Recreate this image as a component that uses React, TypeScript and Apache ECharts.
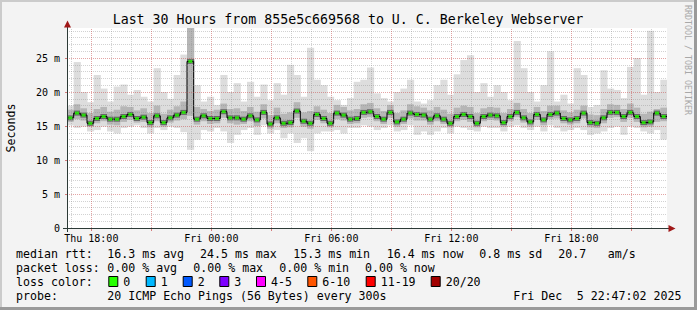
import React, { useEffect, useRef } from 'react';
import * as echarts from 'echarts';

// Time axis: hours since Thu 00:00. Graph covers Thu 16:47:02 .. Fri 22:47:02 (30 h)
const START_H = 16 + 47 / 60 + 2 / 3600;
const SPAN_H = 30;
const STEP_H = 1 / 3; // 20-minute consolidated steps

// median rtt per step (ms)
const medianMs = [
  16.2, 16.9, 16.6, 15.4, 16.1, 16.4, 16.0, 16.0, 16.4, 16.7, 16.1, 16.3, 15.5, 16.5, 15.5, 16.2, 16.6, 17.0,
  24.5, 16.0, 16.5, 16.1, 16.1, 17.1, 16.2, 16.2, 16.0, 16.5, 15.9, 17.0, 15.3, 16.2, 15.4, 15.5, 17.2, 15.7,
  15.4, 16.7, 16.1, 15.4, 16.9, 16.6, 16.0, 16.1, 17.0, 17.1, 16.4, 16.0, 17.0, 15.6, 16.0, 16.9, 16.7, 16.6,
  16.0, 16.5, 16.0, 15.4, 16.4, 16.7, 16.4, 15.4, 16.4, 16.6, 16.5, 15.5, 16.4, 17.0, 16.2, 15.6, 16.7, 15.9,
  16.7, 16.9, 16.1, 15.9, 16.1, 16.9, 15.5, 15.4, 16.2, 17.0, 17.0, 16.4, 17.0, 16.4, 15.5, 15.6, 16.9, 16.4,
];
// slowest ping per step (ms)
const maxMs = [
  18.0, 24.4, 20.0, 18.5, 22.5, 20.5, 18.6, 20.8, 21.1, 19.6, 20.3, 19.3, 18.6, 23.5, 20.0, 19.0, 22.5, 25.5,
  40.0, 21.0, 18.6, 19.3, 18.1, 22.5, 20.0, 21.3, 18.6, 21.5, 19.3, 21.1, 18.8, 21.3, 19.6, 24.0, 22.5, 19.3,
  26.5, 21.8, 21.0, 19.3, 18.8, 18.1, 19.1, 21.5, 21.8, 23.6, 19.8, 19.1, 18.6, 20.0, 20.5, 21.8, 18.6, 18.3,
  18.8, 21.0, 21.8, 19.6, 22.6, 24.7, 25.4, 20.0, 21.3, 19.3, 21.0, 20.0, 18.8, 27.5, 23.5, 20.0, 18.6, 21.0,
  26.0, 18.6, 19.6, 18.3, 23.5, 22.5, 17.8, 18.1, 23.2, 20.5, 20.3, 19.1, 23.7, 25.0, 19.6, 29.0, 20.0, 21.8,
];
// fastest ping per step (ms)
const minMs = [
  15.1, 14.7, 14.9, 14.2, 14.4, 14.9, 14.2, 13.9, 14.7, 14.9, 15.1, 14.7, 13.9, 14.7, 14.4, 14.9, 14.7, 14.1,
  11.5, 13.0, 14.4, 14.2, 14.7, 14.2, 12.5, 13.7, 14.4, 14.7, 13.7, 15.1, 13.9, 14.4, 13.2, 13.9, 12.5, 13.2,
  11.3, 13.9, 14.2, 14.2, 14.4, 13.9, 14.7, 14.7, 15.1, 14.9, 14.4, 14.7, 15.1, 14.2, 14.4, 15.1, 13.7, 14.2,
  13.7, 14.2, 14.7, 13.9, 14.9, 14.7, 14.4, 14.2, 14.9, 14.7, 14.7, 14.2, 14.9, 15.1, 14.7, 14.4, 14.9, 14.2,
  15.1, 14.7, 14.2, 14.4, 14.7, 14.4, 13.7, 13.9, 14.2, 14.7, 14.9, 13.7, 14.9, 14.7, 14.2, 13.9, 14.4, 13.0,
];
// upper edge of the dense part of the smoke (ms)
const upperMs = [
  17.4, 18.2, 17.6, 16.9, 17.5, 17.8, 17.1, 17.4, 17.9, 17.8, 17.3, 17.6, 16.9, 18.0, 16.8, 17.4, 17.9, 18.6,
  35.0, 17.8, 17.5, 17.2, 17.4, 18.3, 17.5, 17.6, 17.2, 17.8, 17.1, 18.2, 16.6, 17.7, 16.8, 17.0, 18.5, 17.0,
  17.2, 17.9, 17.4, 16.9, 18.1, 17.8, 17.3, 17.5, 18.2, 18.4, 17.6, 17.2, 18.1, 16.9, 17.3, 18.2, 17.9, 17.7,
  17.3, 17.8, 17.4, 16.8, 17.7, 18.0, 17.8, 16.9, 17.6, 17.8, 17.7, 16.9, 17.5, 18.4, 17.5, 16.9, 17.8, 17.2,
  18.0, 18.0, 17.3, 17.0, 17.4, 18.0, 16.7, 16.6, 17.5, 18.2, 18.1, 17.5, 18.3, 17.7, 16.8, 17.1, 17.5, 17.7,
];
// lower edge of the dense part of the smoke (ms)
const lowerMs = [
  15.6, 16.0, 15.8, 14.9, 15.4, 15.7, 15.2, 15.1, 15.6, 15.9, 15.5, 15.6, 14.8, 15.7, 14.9, 15.5, 15.8, 16.0,
  16.5, 15.2, 15.7, 15.3, 15.4, 16.2, 15.4, 15.2, 15.3, 15.7, 15.0, 16.1, 14.6, 15.4, 14.7, 14.8, 16.2, 14.9,
  14.6, 15.9, 15.4, 14.8, 16.0, 15.8, 15.3, 15.4, 16.2, 16.3, 15.7, 15.3, 16.2, 14.9, 15.3, 16.1, 15.8, 15.8,
  15.2, 15.7, 15.3, 14.8, 15.7, 15.9, 15.6, 14.8, 15.7, 15.9, 15.8, 14.9, 15.7, 16.3, 15.5, 14.9, 15.9, 15.1,
  16.0, 16.1, 15.4, 15.2, 15.4, 16.1, 14.8, 14.7, 15.4, 16.2, 16.3, 15.6, 16.2, 15.6, 14.8, 14.9, 15.6, 15.7,
];

const xTickHours = [18, 24, 30, 36, 42];
const xTickLabels = ['Thu 18:00', 'Fri 00:00', 'Fri 06:00', 'Fri 12:00', 'Fri 18:00'];
const yTickValues = [0, 5, 10, 15, 20, 25];
const yTickLabels = ['0', '5 m', '10 m', '15 m', '20 m', '25 m'];
const yMax = 200 / 6.8;

const lossLabels = ['0', '1', '2', '3', '4-5', '6-10', '11-19', '20/20'];
const lossColors = ['#26ff00', '#00b8ff', '#0059ff', '#7e00ff', '#ff00ff', '#ff5500', '#ff0000', '#a10000'];

const titleText = 'Last 30 Hours from 855e5c669568 to U. C. Berkeley Webserver';
const rttRow = ['median rtt:', '16.3 ms avg', '24.5 ms max', '15.3 ms min', '16.4 ms now', '0.8 ms sd', '20.7', 'am/s'];
const lossRow = ['packet loss:', '0.00 % avg', '0.00 % max', '0.00 % min', '0.00 % now'];
const probeRow = ['probe:', '20 ICMP Echo Pings (56 Bytes) every 300s', 'Fri Dec', '5 22:47:02 2025'];

// layout (pixels)
const rttX = [16, 107.3, 200, 293.3, 386.7, 479.3, 558.3, 607.7];
const lossX = [16, 107.3, 193.3, 279.3, 365];
const probeX = [16, 107.3, 513.3, 576.7];
const swatchX = [108.3, 145.7, 182.7, 219.3, 256, 307.3, 365.7, 430.7];
const ROWS = [254.3, 268.3, 282.3, 296.2];
const MONO = '"DejaVu Sans Mono", monospace';

export default function App() {
  const ref = useRef<HTMLDivElement>(null);

  useEffect(() => {
    const chart = echarts.init(ref.current as HTMLDivElement, null, { renderer: 'svg' });

    const times = medianMs.map((_, i) => START_H + i * STEP_H);
    const endH = START_H + SPAN_H;
    const last = medianMs.length - 1;

    const smokeData = medianMs.map((m, i) => [times[i], minMs[i], lowerMs[i], upperMs[i], maxMs[i], m]);
    const medLine = [...times.map((t, i) => [t, medianMs[i]]), [endH, medianMs[last]]];
    const medDots = times.map((t, i) => [t + STEP_H / 2, medianMs[i]]);

    const hourLines: number[] = [];
    const majorHourLines: number[] = [];
    for (let h = Math.ceil(START_H); h < endH; h++) {
      if (h % 3 === 0) majorHourLines.push(h);
      else hourLines.push(h);
    }
    const msLines: number[] = [];
    const majorMsLines: number[] = [];
    for (let v = 1; v < yMax; v++) {
      if (v % 5 === 0) majorMsLines.push(v);
      else msLines.push(v);
    }

    const txt = (text: string, x: number, y: number, extra: any = {}) => ({
      type: 'text',
      x,
      y,
      silent: true,
      z: 50,
      style: {
        text,
        fill: '#000',
        fontSize: 11.6,
        fontFamily: MONO,
        textAlign: 'left',
        align: 'left',
        textVerticalAlign: 'middle',
        verticalAlign: 'middle',
        ...extra,
      },
    });

    const graphics: any[] = [];
    graphics.push(txt(titleText, 348, 19.5, { fontSize: 13.25, textAlign: 'center', align: 'center' }));
    graphics.push({
      ...txt('Seconds', 10.8, 128, { textAlign: 'center', align: 'center' }),
      rotation: Math.PI / 2,
    });
    graphics.push({
      ...txt('RRDTOOL / TOBI OETIKER', 687.5, 60, { textAlign: 'center', align: 'center', fontSize: 8.3, fill: '#a8a8a8' }),
      rotation: -Math.PI / 2,
    });
    rttRow.forEach((s, i) => graphics.push(txt(s, rttX[i], ROWS[0])));
    lossRow.forEach((s, i) => graphics.push(txt(s, lossX[i], ROWS[1])));
    graphics.push(txt('loss color:', 16, ROWS[2]));
    lossLabels.forEach((lab, i) => {
      graphics.push({
        type: 'rect',
        silent: true,
        z: 50,
        shape: { x: swatchX[i] + 0.5, y: 276.5, width: 9, height: 10 },
        style: { fill: lossColors[i], stroke: '#000', lineWidth: 1 },
      });
      graphics.push(txt(lab, swatchX[i] + 15, ROWS[2]));
    });
    probeRow.forEach((s, i) => graphics.push(txt(s, probeX[i], ROWS[3])));

    // axes with arrows
    const axisColor = '#2c3a36';
    graphics.push({ type: 'line', silent: true, z: 40, shape: { x1: 67.5, y1: 232, x2: 67.5, y2: 26 }, style: { stroke: axisColor, lineWidth: 1 } });
    graphics.push({ type: 'line', silent: true, z: 40, shape: { x1: 63, y1: 228.5, x2: 669, y2: 228.5 }, style: { stroke: axisColor, lineWidth: 1 } });
    graphics.push({ type: 'polygon', silent: true, z: 41, shape: { points: [[67.5, 20.5], [64, 27.5], [71, 27.5]] }, style: { fill: '#a01818' } });
    graphics.push({ type: 'polygon', silent: true, z: 41, shape: { points: [[675.5, 228.5], [668.5, 225], [668.5, 232]] }, style: { fill: '#a01818' } });

    // image frame shading
    graphics.push({ type: 'rect', silent: true, z: 60, shape: { x: 0, y: 0, width: 697, height: 2 }, style: { fill: '#cbcbcb' } });
    graphics.push({ type: 'rect', silent: true, z: 60, shape: { x: 0, y: 0, width: 2, height: 310 }, style: { fill: '#cbcbcb' } });
    graphics.push({ type: 'rect', silent: true, z: 61, shape: { x: 0, y: 307, width: 697, height: 3 }, style: { fill: '#9a9a9a' } });
    graphics.push({ type: 'rect', silent: true, z: 61, shape: { x: 694, y: 0, width: 3, height: 310 }, style: { fill: '#9a9a9a' } });

    const dotted = (color: string) => ({ color, width: 1, type: [1, 1] as any });

    const option: any = {
      animation: false,
      backgroundColor: '#f3f3f3',
      grid: { left: 67, top: 28, width: 600, height: 200, show: true, backgroundColor: '#ffffff', borderWidth: 0, containLabel: false },
      xAxis: {
        type: 'value',
        min: START_H,
        max: endH,
        axisLine: { show: false },
        splitLine: { show: false },
        axisTick: {
          show: true,
          customValues: majorHourLines,
          length: 3,
          lineStyle: { color: 'rgba(200,73,73,0.7)' },
        },
        axisLabel: {
          customValues: xTickHours,
          formatter: (v: number) => {
            const k = xTickHours.findIndex((h) => Math.abs(h - v) < 1e-6);
            return k >= 0 ? xTickLabels[k] : '';
          },
          fontFamily: MONO,
          fontSize: 10,
          color: '#000',
          margin: 5,
        },
      },
      yAxis: {
        type: 'value',
        min: 0,
        max: yMax,
        axisLine: { show: false },
        splitLine: { show: false },
        axisTick: {
          show: true,
          customValues: majorMsLines,
          length: 2,
          lineStyle: { color: 'rgba(200,73,73,0.7)' },
        },
        axisLabel: {
          customValues: yTickValues,
          formatter: (v: number) => {
            const k = yTickValues.findIndex((h) => Math.abs(h - v) < 1e-6);
            return k >= 0 ? yTickLabels[k] : '';
          },
          fontFamily: MONO,
          fontSize: 10,
          color: '#000',
          margin: 7,
        },
      },
      graphic: { elements: graphics },
      series: [
        {
          type: 'custom',
          coordinateSystem: 'cartesian2d',
          data: smokeData,
          encode: { x: 0, y: [1, 4] },
          z: 2,
          silent: true,
          renderItem: (params: any, api: any) => {
            const t = api.value(0);
            const cs = params.coordSys;
            const clip = { x: cs.x, y: cs.y, width: cs.width, height: cs.height };
            const band = (lo: number, hi: number, fill: string) => {
              const p1 = api.coord([t, hi]);
              const p2 = api.coord([t + STEP_H, lo]);
              const r = echarts.graphic.clipRectByRect(
                { x: p1[0], y: p1[1], width: p2[0] - p1[0] + 0.5, height: p2[1] - p1[1] },
                clip
              );
              return r ? { type: 'rect', shape: r, style: { fill } } : null;
            };
            const m1 = api.coord([t, api.value(5)]);
            const m2 = api.coord([t + STEP_H, api.value(5)]);
            const core = echarts.graphic.clipRectByRect(
              { x: m1[0], y: m1[1] - 2.5, width: m2[0] - m1[0] + 0.5, height: 5 },
              clip
            );
            const children = [
              band(api.value(1), api.value(4), '#dddddd'),
              band(api.value(2), api.value(3), '#b6b6b6'),
              core ? { type: 'rect', shape: core, style: { fill: '#666666' } } : null,
            ].filter(Boolean);
            return { type: 'group', children };
          },
        },
        {
          type: 'line',
          data: [],
          z: 3,
          silent: true,
          markLine: {
            silent: true,
            symbol: ['none', 'none'],
            label: { show: false },
            lineStyle: dotted('rgba(143,143,143,0.4)'),
            data: [...hourLines.map((h) => ({ xAxis: h })), ...msLines.map((v) => ({ yAxis: v }))],
          },
        },
        {
          type: 'line',
          data: [],
          z: 3,
          silent: true,
          markLine: {
            silent: true,
            symbol: ['none', 'none'],
            label: { show: false },
            lineStyle: dotted('rgba(200,73,73,0.5)'),
            data: [...majorHourLines.map((h) => ({ xAxis: h })), ...majorMsLines.map((v) => ({ yAxis: v }))],
          },
        },
        {
          type: 'line',
          data: medLine,
          step: 'end',
          symbol: 'none',
          z: 4,
          silent: true,
          lineStyle: { color: '#000', width: 1 },
        },
        {
          type: 'scatter',
          data: medDots,
          symbol: 'rect',
          symbolSize: [4, 3],
          z: 5,
          silent: true,
          itemStyle: { color: lossColors[0] },
        },
      ],
    };

    chart.setOption(option);
    return () => chart.dispose();
  }, []);

  return <div ref={ref} style={{ position: 'fixed', left: 0, top: 0, width: 697, height: 310 }} />;
}
